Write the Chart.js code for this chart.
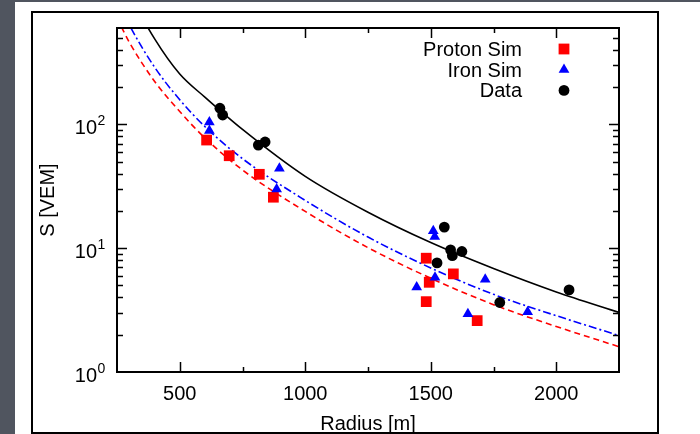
<!DOCTYPE html>
<html>
<head>
<meta charset="utf-8">
<script src="https://cdn.jsdelivr.net/npm/chart.js@4.4.0/dist/chart.umd.min.js"></script>
<style>
  html, body { margin: 0; padding: 0; }
  body { width: 700px; height: 434px; background: #50555f; position: relative; overflow: hidden; }
  #sheet { position: absolute; left: 15px; top: 2px; width: 685px; height: 432px; background: #fff; }
  #frame { position: absolute; left: 31px; top: 11px; width: 624px; height: 419px; border: 2px solid #000; }
  #chart { position: absolute; left: 0; top: 0; }
</style>
</head>
<body>
<div id="sheet"></div>
<div id="frame"></div>
<canvas id="chart" width="700" height="434"></canvas>
<script>
// measured points (radius in m, signal in VEM)
const protonR = [607, 697, 817, 873, 1482, 1494, 1590, 1482, 1685];
const protonS = [74.7, 55.8, 39.5, 25.8, 8.3, 5.3, 6.2, 3.7, 2.6];

const ironR = [618, 618, 897, 886, 1510, 1516, 1444, 1517, 1717, 1648, 1886];
const ironS = [104, 89, 44, 30, 13.8, 12.4, 4.85, 5.8, 5.6, 2.95, 3.06];

const dataR = [660, 671, 813, 840, 1554, 1579, 1586, 1624, 1525, 1775, 2051];
const dataS = [135, 119, 68, 72, 14.8, 9.7, 8.7, 9.4, 7.6, 3.64, 4.6];

// fitted curves
const fitR = [250, 300, 400, 500, 600, 750, 1000, 1250, 1500, 1750, 2000, 2250];
const dataFit = [1900, 1140, 490, 255, 166, 91, 38, 19.5, 11.1, 6.85, 4.43, 3.03];
const ironFit = [1030, 630, 289, 158, 96, 52.8, 24.3, 12.3, 6.92, 4.24, 2.85, 1.97];
const protonFit = [722, 457, 222, 127, 77.7, 42.8, 19.8, 10.1, 5.72, 3.50, 2.33, 1.60];

// axis labels
const xTickLabels = [500, 1000, 1500, 2000];
const yTickExps = [0, 1, 2];
const legendNames = ['Proton Sim', 'Iron Sim', 'Data'];

const FONT = "'Liberation Sans', Arial, Helvetica, sans-serif";
Chart.defaults.font.family = FONT;
Chart.defaults.color = '#000';

const pts = (xs, ys) => xs.map((x, i) => ({ x: x, y: ys[i] }));

function fitLine(ys, color, dash, order) {
  return {
    data: pts(fitR, ys),
    showLine: true,
    borderColor: color,
    borderWidth: 1.6,
    borderDash: dash,
    pointRadius: 0,
    cubicInterpolationMode: 'monotone',
    order: order
  };
}

// draw the border, inward ticks, y labels and the legend
const decorations = {
  id: 'decorations',
  afterDraw(chart) {
    const { ctx, chartArea: a, scales: { x, y } } = chart;
    ctx.save();
    ctx.strokeStyle = '#000';
    ctx.lineWidth = 2;
    ctx.strokeRect(a.left, a.top, a.right - a.left, a.bottom - a.top);

    ctx.lineWidth = 1.5;
    ctx.beginPath();
    x.ticks.forEach(t => {
      if (t.value <= x.min || t.value >= x.max) return;
      const px = Math.round(x.getPixelForValue(t.value)) + 0.5;
      const len = xTickLabels.includes(t.value) ? 10 : 5;
      ctx.moveTo(px, a.bottom); ctx.lineTo(px, a.bottom - len);
      ctx.moveTo(px, a.top); ctx.lineTo(px, a.top + len);
    });
    for (let e = 0; e <= 2; e++) {
      for (let m = 1; m <= 9; m++) {
        const v = m * Math.pow(10, e);
        if (v <= y.min || v >= y.max) continue;
        const py = Math.round(y.getPixelForValue(v)) + 0.5;
        const len = m === 1 ? 10 : 6;
        ctx.moveTo(a.left, py); ctx.lineTo(a.left + len, py);
        ctx.moveTo(a.right, py); ctx.lineTo(a.right - len, py);
      }
    }
    ctx.stroke();

    // y labels 10^n
    ctx.fillStyle = '#000';
    ctx.textBaseline = 'alphabetic';
    yTickExps.forEach(n => {
      const py = y.getPixelForValue(Math.pow(10, n));
      ctx.font = '20px ' + FONT;
      ctx.textAlign = 'right';
      ctx.fillText('10', 97, py + 10);
      ctx.font = '14px ' + FONT;
      ctx.textAlign = 'left';
      ctx.fillText(String(n), 97.5, py + 0.5);
    });

    // legend, text left of the symbol
    ctx.font = '20px ' + FONT;
    ctx.textAlign = 'right';
    const sets = [chart.data.datasets[2], chart.data.datasets[1], chart.data.datasets[0]];
    legendNames.forEach((name, i) => {
      const base = 56 + i * 20.7;
      ctx.fillStyle = '#000';
      ctx.fillText(name, 522, base);
      const cx = 564, cy = base - 7;
      ctx.fillStyle = sets[i].backgroundColor;
      ctx.beginPath();
      if (i === 0) {
        ctx.rect(cx - 5.4, cy - 5.4, 10.8, 10.8);
      } else if (i === 1) {
        const r = 6.2;
        ctx.moveTo(cx, cy - r);
        ctx.lineTo(cx + r * 0.866, cy + r / 2);
        ctx.lineTo(cx - r * 0.866, cy + r / 2);
        ctx.closePath();
      } else {
        ctx.arc(cx, cy, 5.4, 0, Math.PI * 2);
      }
      ctx.fill();
    });
    ctx.restore();
  }
};

new Chart(document.getElementById('chart'), {
  type: 'scatter',
  data: {
    datasets: [
      {
        data: pts(dataR, dataS),
        pointStyle: 'circle',
        pointRadius: 5.4,
        pointBorderWidth: 0,
        backgroundColor: '#000',
        order: 0
      },
      {
        data: pts(ironR, ironS),
        pointStyle: 'triangle',
        pointRadius: 6.2,
        pointBorderWidth: 0,
        backgroundColor: '#0000ff',
        order: 1
      },
      {
        data: pts(protonR, protonS),
        pointStyle: 'rect',
        pointRadius: 7.6,
        pointBorderWidth: 0,
        backgroundColor: '#ff0000',
        order: 2
      },
      fitLine(dataFit, '#000', [], 3),
      fitLine(ironFit, '#0000ff', [8, 3, 2, 3], 4),
      fitLine(protonFit, '#ff0000', [6, 4], 5)
    ]
  },
  options: {
    responsive: false,
    animation: false,
    layout: { padding: { left: 0, right: 81, top: 28, bottom: 0 } },
    plugins: { legend: { display: false }, tooltip: { enabled: false } },
    scales: {
      x: {
        type: 'linear',
        min: 250,
        max: 2250,
        grid: { display: false, drawTicks: false },
        border: { display: false },
        ticks: {
          stepSize: 250,
          autoSkip: false,
          maxRotation: 0,
          padding: 10,
          font: { size: 20 },
          callback: v => xTickLabels.includes(v) ? String(v) : ''
        },
        title: { display: true, text: 'Radius [m]', font: { size: 20, lineHeight: 1 }, padding: 0 },
        afterFit: s => { s.height = 62; }
      },
      y: {
        type: 'logarithmic',
        min: 1,
        max: 600,
        grid: { display: false, drawTicks: false },
        border: { display: false },
        ticks: { display: false },
        title: { display: true, text: 'S [VEM]', font: { size: 20, lineHeight: 1 }, padding: { top: 38 } },
        afterFit: s => { s.width = 117; }
      }
    }
  },
  plugins: [decorations]
});
</script>
</body>
</html>
